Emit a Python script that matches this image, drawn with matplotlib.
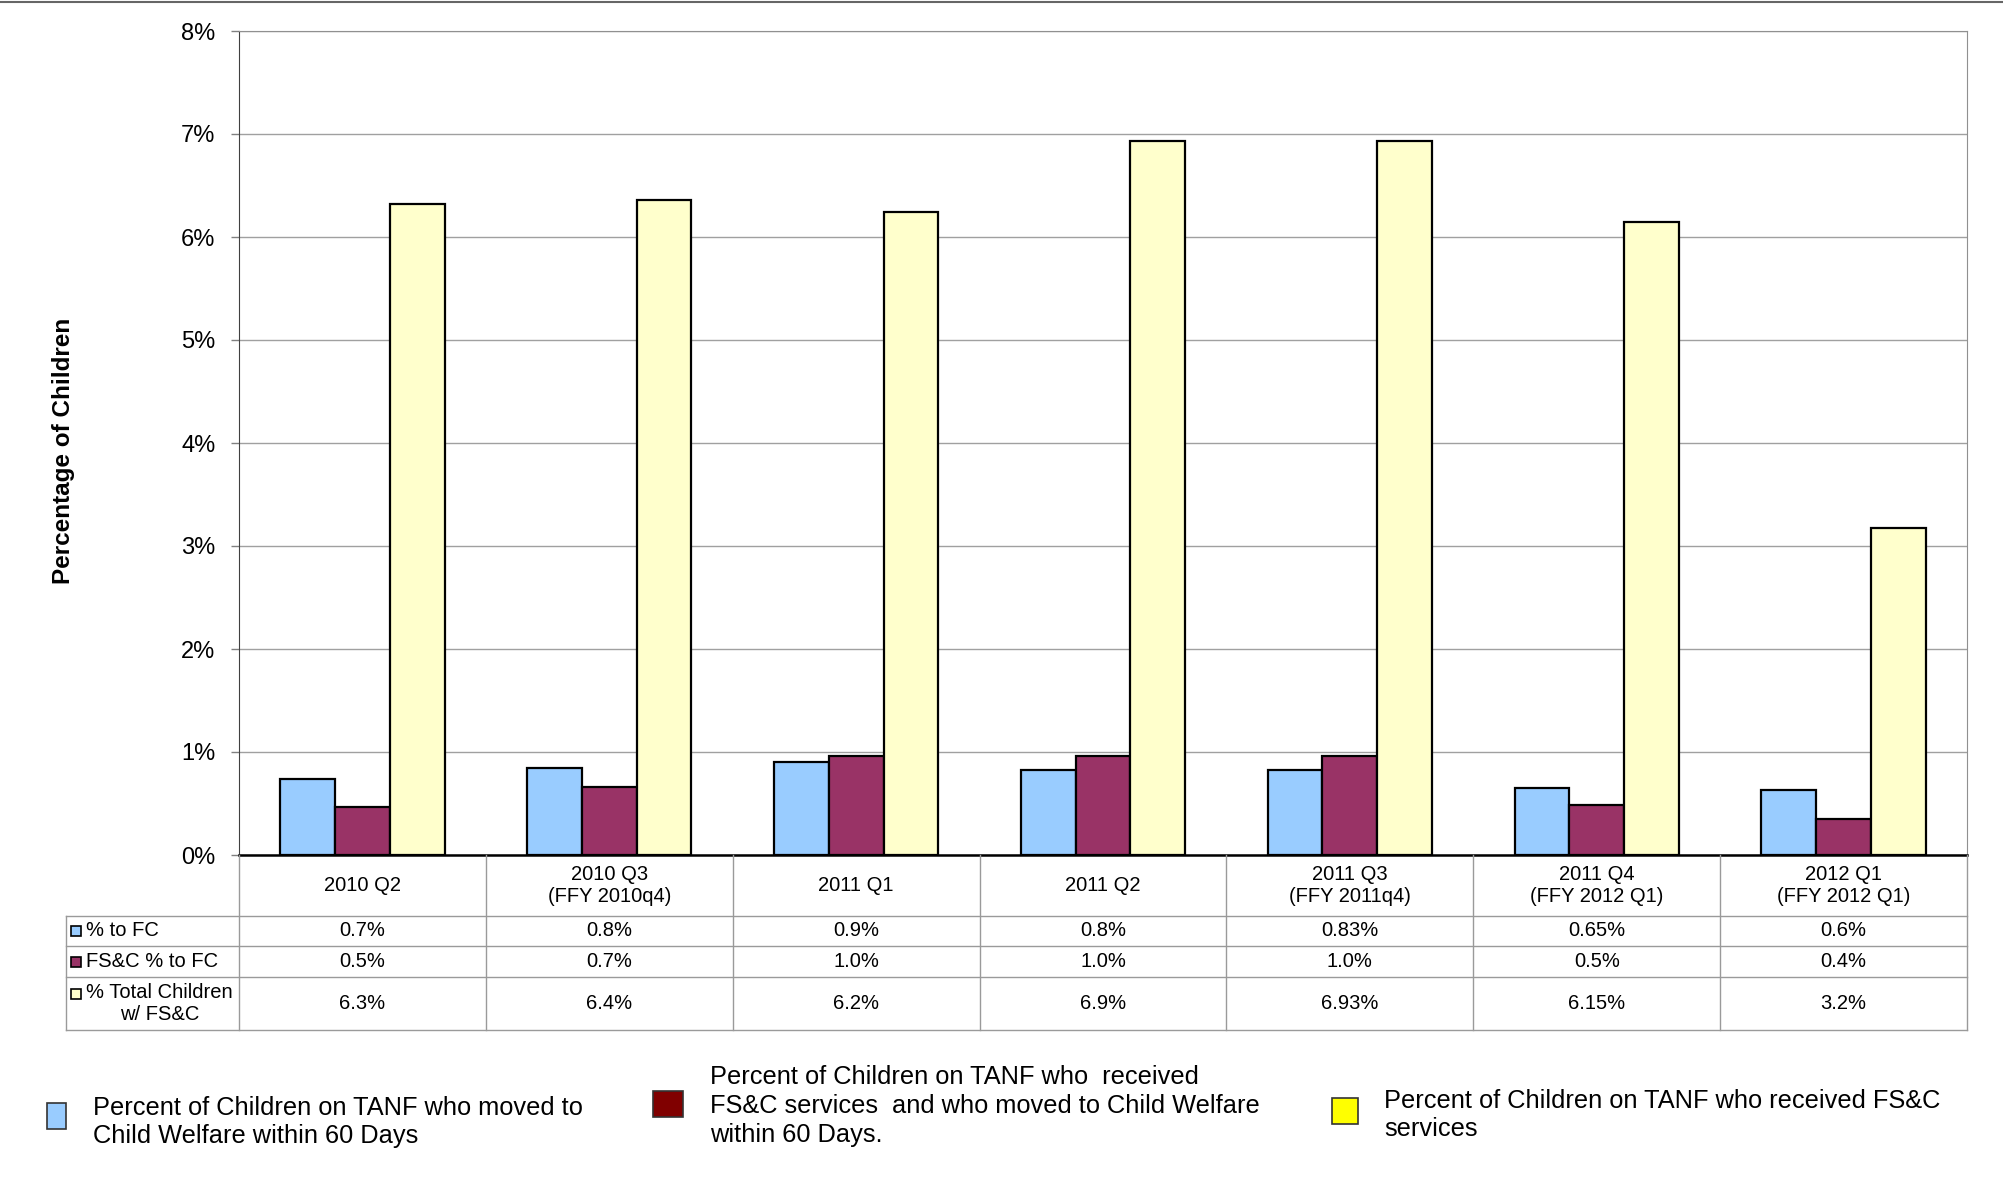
import matplotlib
matplotlib.use("Agg")
import matplotlib.pyplot as plt
from matplotlib.patches import Rectangle
from matplotlib.lines import Line2D
import numpy as np

plt.rcParams['font.family'] = ['Liberation Sans', 'DejaVu Sans']

# data
quarters = ["2010 Q2", "2010 Q3\n(FFY 2010q4)", "2011 Q1", "2011 Q2",
            "2011 Q3\n(FFY 2011q4)", "2011 Q4\n(FFY 2012 Q1)", "2012 Q1\n(FFY 2012 Q1)"]
pct_to_fc = [0.74, 0.84, 0.90, 0.83, 0.83, 0.65, 0.63]
fsc_to_fc = [0.47, 0.66, 0.96, 0.96, 0.96, 0.49, 0.35]
total_fsc = [6.32, 6.36, 6.24, 6.93, 6.93, 6.15, 3.17]

# text shown in the data table under the chart
row_names = ["% to FC", "FS&C % to FC", "% Total Children\nw/ FS&C"]
row_text = [
    ["0.7%", "0.8%", "0.9%", "0.8%", "0.83%", "0.65%", "0.6%"],
    ["0.5%", "0.7%", "1.0%", "1.0%", "1.0%", "0.5%", "0.4%"],
    ["6.3%", "6.4%", "6.2%", "6.9%", "6.93%", "6.15%", "3.2%"],
]
bar_colors = ["#99CCFF", "#993366", "#FFFFCC"]
legend_colors = ["#99CCFF", "#800000", "#FFFF00"]
legend_text = [
    "Percent of Children on TANF who moved to\nChild Welfare within 60 Days",
    "Percent of Children on TANF who  received\nFS&C services  and who moved to Child Welfare\nwithin 60 Days.",
    "Percent of Children on TANF who received FS&C\nservices",
]

W, H = 2003, 1192
fig = plt.figure(figsize=(W / 100, H / 100), dpi=100)
ax = fig.add_axes([239 / W, 1 - 855 / H, 1728 / W, 824 / H])

x = np.arange(len(quarters))
bw = 0.222
for k, vals in enumerate([pct_to_fc, fsc_to_fc, total_fsc]):
    ax.bar(x + (k - 1) * bw, vals, width=bw, color=bar_colors[k],
           edgecolor="black", linewidth=1.6, zorder=3)

ax.set_xlim(-0.5, len(quarters) - 0.5)
ax.set_ylim(0, 8)
ax.set_yticks(range(0, 9))
ax.set_yticklabels([f"{v}%" for v in range(0, 9)], fontsize=17)
ax.tick_params(axis="y", length=6, width=1, color="#808080", pad=11)
ax.set_xticks([])
ax.grid(axis="y", color="#A0A0A0", linewidth=1, zorder=0)
ax.spines["left"].set_color("#404040")
ax.spines["top"].set_color("#909090")
ax.spines["right"].set_color("#909090")
ax.spines["bottom"].set_color("black")
ax.spines["bottom"].set_linewidth(1.8)
ax.spines["bottom"].set_zorder(4)

fig.text(64 / W, 1 - 451 / H, "Percentage of Children", rotation=90,
         fontsize=17.5, fontweight="bold", ha="center", va="center")

# data table drawn below the axes, in pixel coordinates
def fx(px):
    return px / W

def fy(py):
    return 1 - py / H

col_edges = np.linspace(239, 1967, len(quarters) + 1)
row_edges = [855, 916, 946, 977, 1030]
line_kw = dict(color="#9A9A9A", linewidth=1, transform=fig.transFigure)

for cx in col_edges:
    fig.add_artist(Line2D([fx(cx), fx(cx)], [fy(855), fy(1030)], **line_kw))
fig.add_artist(Line2D([fx(66), fx(66)], [fy(916), fy(1030)], **line_kw))
for ry in row_edges[1:]:
    fig.add_artist(Line2D([fx(66), fx(1967)], [fy(ry), fy(ry)], **line_kw))

centers = (col_edges[:-1] + col_edges[1:]) / 2
hdr_y = (row_edges[0] + row_edges[1]) / 2
for cx, q in zip(centers, quarters):
    fig.text(fx(cx), fy(hdr_y), q, ha="center", va="center", fontsize=14.5,
             linespacing=1.2)

for r in range(3):
    ry = (row_edges[r + 1] + row_edges[r + 2]) / 2
    for cx, t in zip(centers, row_text[r]):
        fig.text(fx(cx), fy(ry), t, ha="center", va="center", fontsize=14.5)
    my = ry - 10 if r == 2 else ry
    fig.add_artist(Rectangle((fx(71), fy(my + 5)), 10 / W, 10 / H,
                             facecolor=bar_colors[r], edgecolor="black",
                             linewidth=1.2, transform=fig.transFigure))
    fig.text(fx(86), fy(ry), row_names[r], ha="left", va="center",
             fontsize=14.5, multialignment="center", linespacing=1.2)

# legend below the table
leg_items = [
    (47, 1103, 19, 26, 93, 1122),
    (653, 1091, 30, 26, 710, 1106),
    (1332, 1098, 26, 26, 1384, 1115),
]
for (mx, my, mw, mh, tx, ty), c, t in zip(leg_items, legend_colors, legend_text):
    fig.add_artist(Rectangle((fx(mx), fy(my + mh)), mw / W, mh / H,
                             facecolor=c, edgecolor="#333333", linewidth=1.2,
                             transform=fig.transFigure))
    fig.text(fx(tx), fy(ty), t, ha="left", va="center", fontsize=18.3,
             linespacing=1.25)

# thin frame line along the top of the picture
fig.add_artist(Line2D([0, 1], [fy(2), fy(2)], color="#666666", linewidth=1.5,
                      transform=fig.transFigure))

fig.savefig("out.png", dpi=100, facecolor="white")
